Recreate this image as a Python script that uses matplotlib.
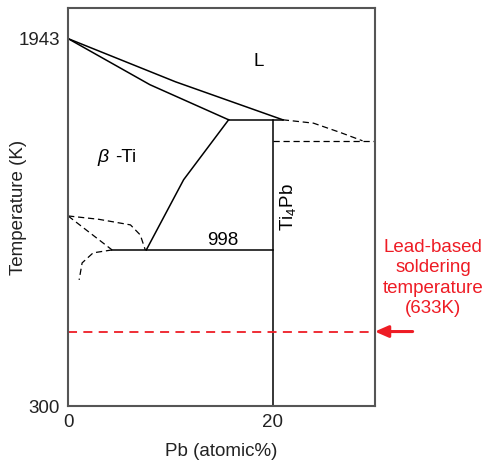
import matplotlib
matplotlib.use("Agg")
import matplotlib.pyplot as plt

plt.rcParams['font.family'] = ['Liberation Sans', 'DejaVu Sans']
plt.rcParams['mathtext.fontset'] = 'custom'
plt.rcParams['mathtext.rm'] = 'Liberation Sans'
plt.rcParams['mathtext.it'] = 'Liberation Sans:italic'

# phase boundaries (Pb at.%, temperature K)
liquidus_x = [0, 10.5, 21.0]
liquidus_t = [1943, 1750, 1580]
solidus_x = [0, 8.0, 15.7]
solidus_t = [1943, 1737, 1580]
peritectic_x = [15.7, 21.0]
peritectic_t = [1580, 1580]
beta_x = [15.7, 11.3, 7.65]
beta_t = [1580, 1312, 998]
eutectoid_x = [4.3, 20]
eutectoid_t = [998, 998]
ti4pb_x = [20, 20]
ti4pb_t = [300, 1580]

dash_right_x = [21.0, 24.0, 26.7, 28.8]
dash_right_t = [1580, 1565, 1522, 1486]
dash_flat_x = [20, 30]
dash_flat_t = [1486, 1486]
dash_a_x = [0, 3.0, 6.1, 7.06, 7.55]
dash_a_t = [1150, 1135, 1110, 1065, 998]
dash_b_x = [0, 4.3]
dash_b_t = [1150, 998]
dash_c_x = [4.3, 2.45, 1.37, 1.08]
dash_c_t = [998, 985, 940, 864]

solder_t = 633
xticks = [0, 20]
yticks = [300, 1943]

red = '#ee1c25'
fs = 13.5

fig = plt.figure(figsize=(4.83, 4.62), dpi=100)
ax = fig.add_axes([0.141, 0.1212, 0.635, 0.8615])

lw = 1.1
for xs, ts in [(liquidus_x, liquidus_t), (solidus_x, solidus_t),
               (peritectic_x, peritectic_t), (beta_x, beta_t),
               (eutectoid_x, eutectoid_t), (ti4pb_x, ti4pb_t)]:
    ax.plot(xs, ts, color='black', lw=lw, solid_joinstyle='miter')

for xs, ts in [(dash_right_x, dash_right_t), (dash_flat_x, dash_flat_t),
               (dash_a_x, dash_a_t), (dash_b_x, dash_b_t),
               (dash_c_x, dash_c_t)]:
    ax.plot(xs, ts, color='black', lw=0.9, ls=(0, (5, 3)))

ax.plot([0, 30], [solder_t, solder_t], color=red, lw=1.3, ls=(0, (5, 3.5)))

ax.set_xlim(0, 30)
ax.set_ylim(300, 2080)
ax.set_xticks(xticks)
ax.set_yticks(yticks)
ax.tick_params(length=0, labelsize=fs, colors='#222222')
ax.tick_params(axis='y', pad=6)
ax.tick_params(axis='x', pad=6)
for s in ax.spines.values():
    s.set_color('#555555')
    s.set_linewidth(1.5)

ax.set_xlabel('Pb (atomic%)', fontsize=fs, color='#222222')
ax.set_ylabel('Temperature (K)', fontsize=fs, color='#222222')
ax.xaxis.set_label_coords(0.5, -0.092)
ax.yaxis.set_label_coords(-0.135, 0.5)

ax.text(18.6, 1840, 'L', fontsize=fs, ha='center', va='center')
ax.text(2.85, 1410, 'β', fontsize=fs + 0.5, style='italic', ha='left', va='center')
ax.text(4.6, 1410, '-Ti', fontsize=fs, ha='left', va='center')
ax.text(15.1, 1042, '998', fontsize=fs, ha='center', va='center')
ax.text(21.5, 1190, r'Ti$_4$Pb', fontsize=fs, ha='center', va='center',
        rotation=90)

ax.text(35.7, 872, 'Lead-based\nsoldering\ntemperature\n(633K)',
        fontsize=fs, color=red, ha='center', va='center', linespacing=1.25,
        clip_on=False)
ax.annotate('', xy=(30, solder_t), xytext=(33.7, solder_t),
            arrowprops=dict(arrowstyle='-|>,head_length=0.8,head_width=0.35',
                            color=red, lw=2.2, shrinkA=0, shrinkB=0),
            annotation_clip=False)

fig.savefig('out.png', dpi=100)
